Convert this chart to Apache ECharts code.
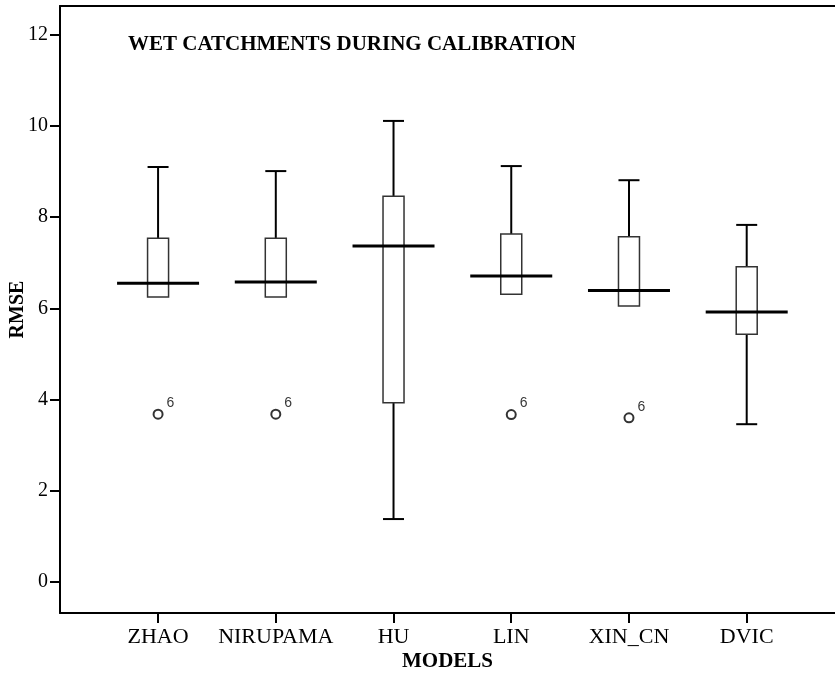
<!DOCTYPE html>
<html>
<head>
<meta charset="utf-8">
<script src="https://cdn.jsdelivr.net/npm/echarts@6/dist/echarts.min.js"></script>
<style>
html, body { margin: 0; padding: 0; background: #fff; }
#chart { width: 835px; height: 677px; }
</style>
</head>
<body>
<div id="chart"></div>
<script>
var categories = ["ZHAO", "NIRUPAMA", "HU", "LIN", "XIN_CN", "DVIC"];
var whiskerLow = [6.25, 6.25, 1.38, 6.31, 6.05, 3.46];
var q1 = [6.25, 6.25, 3.93, 6.31, 6.05, 5.43];
var median = [6.55, 6.58, 7.37, 6.71, 6.39, 5.92];
var q3 = [7.54, 7.54, 8.46, 7.63, 7.57, 6.91];
var whiskerHigh = [9.10, 9.01, 10.11, 9.12, 8.81, 7.83];
var outliers = [3.68, 3.68, null, 3.67, 3.60, null];
var outlierIds = ["6", "6", "", "6", "6", ""];
var yTicks = [0, 2, 4, 6, 8, 10, 12];
var xTicks = [0, 1, 2, 3, 4, 5];

var boxData = categories.map(function (c, i) {
	return [i, whiskerLow[i], q1[i], median[i], q3[i], whiskerHigh[i]];
});
var outlierData = [];
outliers.forEach(function (v, i) {
	if (v != null) outlierData.push({ value: [i, v], id6: outlierIds[i] });
});

var serif = "'Liberation Serif', 'Times New Roman', serif";

function renderBox(params, api) {
	var x = api.value(0);
	var pLow = api.coord([x, api.value(1)]);
	var pQ1 = api.coord([x, api.value(2)]);
	var pMed = api.coord([x, api.value(3)]);
	var pQ3 = api.coord([x, api.value(4)]);
	var pHigh = api.coord([x, api.value(5)]);
	var bw = 21, mw = 82, cx = pMed[0];
	var lineStyle = { stroke: "#000", lineWidth: 2 };
	var kids = [];
	kids.push({ type: "line", shape: { x1: cx, y1: pHigh[1], x2: cx, y2: pQ3[1] }, style: lineStyle });
	kids.push({ type: "line", shape: { x1: cx - bw / 2, y1: pHigh[1], x2: cx + bw / 2, y2: pHigh[1] }, style: lineStyle });
	if (api.value(1) < api.value(2)) {
		kids.push({ type: "line", shape: { x1: cx, y1: pQ1[1], x2: cx, y2: pLow[1] }, style: lineStyle });
		kids.push({ type: "line", shape: { x1: cx - bw / 2, y1: pLow[1], x2: cx + bw / 2, y2: pLow[1] }, style: lineStyle });
	}
	kids.push({ type: "rect", shape: { x: cx - bw / 2, y: pQ3[1], width: bw, height: pQ1[1] - pQ3[1] },
		style: { fill: "#fff", stroke: "#333", lineWidth: 1.5 } });
	kids.push({ type: "line", shape: { x1: cx - mw / 2, y1: pMed[1], x2: cx + mw / 2, y2: pMed[1] },
		style: { stroke: "#000", lineWidth: 3 } });
	return { type: "group", children: kids };
}

var chart = echarts.init(document.getElementById("chart"));
chart.setOption({
	animation: false,
	backgroundColor: "#fff",
	title: {
		text: "WET CATCHMENTS DURING CALIBRATION",
		left: 123, top: 29,
		textStyle: { fontFamily: serif, fontWeight: "bold", fontSize: 21, color: "#000" }
	},
	grid: { left: 60, right: 0, top: 6, bottom: 64, outerBoundsMode: "none", containLabel: false },
	xAxis: [{
		type: "value", min: -0.833, max: 5.75,
		splitLine: { show: false },
		axisLine: { onZero: false, lineStyle: { color: "#000", width: 2 } },
		axisTick: { customValues: xTicks, length: 10, lineStyle: { color: "#000", width: 2 } },
		axisLabel: {
			customValues: xTicks, margin: 13,
			formatter: function (v) { return categories[Math.round(v)]; },
			fontFamily: serif, fontSize: 22, color: "#000"
		},
		name: "MODELS", nameLocation: "middle", nameGap: 38, nameMoveOverlap: false,
		nameTextStyle: { fontFamily: serif, fontWeight: "bold", fontSize: 21, color: "#000" }
	}, {
		type: "value", position: "top", min: -0.833, max: 5.75,
		splitLine: { show: false }, axisTick: { show: false }, axisLabel: { show: false },
		axisLine: { onZero: false, lineStyle: { color: "#000", width: 2 } }
	}],
	yAxis: {
		type: "value", min: -0.68, max: 12.63,
		splitLine: { show: false },
		axisLine: { show: true, onZero: false, lineStyle: { color: "#000", width: 2 } },
		axisTick: { customValues: yTicks, length: 10, lineStyle: { color: "#000", width: 2 } },
		axisLabel: { customValues: yTicks, margin: 12, fontFamily: serif, fontSize: 20, color: "#000" },
		name: "RMSE", nameLocation: "middle", nameGap: 32, nameRotate: 90, nameMoveOverlap: false,
		nameTextStyle: { fontFamily: serif, fontWeight: "bold", fontSize: 20, color: "#000" }
	},
	series: [{
		type: "custom",
		renderItem: renderBox,
		data: boxData,
		encode: { x: 0, y: [1, 2, 3, 4, 5] }
	}, {
		type: "scatter",
		symbol: "emptyCircle",
		symbolSize: 9,
		itemStyle: { color: "#000", borderColor: "#000", borderWidth: 1 },
		label: {
			show: true, position: "right", offset: [-2, -11],
			formatter: function (p) { return p.data.id6; },
			fontFamily: "'Liberation Sans', Arial, sans-serif", fontSize: 14, color: "#000"
		},
		data: outlierData
	}]
});
</script>
</body>
</html>
